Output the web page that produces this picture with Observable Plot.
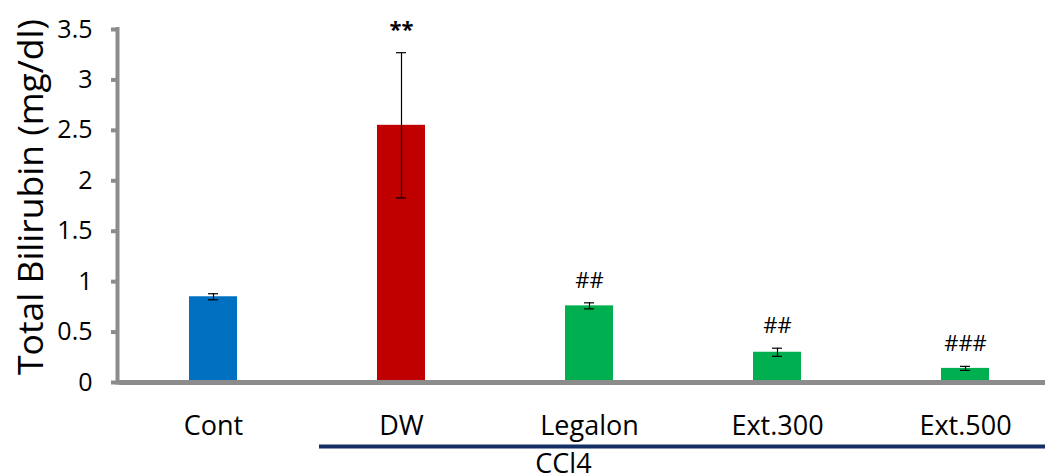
<!DOCTYPE html>
<html><head><meta charset="utf-8">
<script src="https://cdn.jsdelivr.net/npm/d3@7"></script>
<script src="https://cdn.jsdelivr.net/npm/@observablehq/plot@0.6"></script>
<style>html,body{margin:0;padding:0;background:#fff}#chart svg{display:block}</style>
</head><body><div id="chart"></div>
<script>
const groups = ["Cont", "DW", "Legalon", "Ext.300", "Ext.500"];
const means = [0.85, 2.55, 0.76, 0.30, 0.14];
const errors = [0.03, 0.72, 0.03, 0.04, 0.02];
const signif = ["", "**", "##", "##", "###"];
const colors = ["#0070C0", "#C00000", "#00B050", "#00B050", "#00B050"];
const yTicks = [0, 0.5, 1, 1.5, 2, 2.5, 3, 3.5];
const yTitle = "Total Bilirubin (mg/dl)";
const bracketLabel = "CCl4";
const bracketFrom = "DW";
const bracketTo = "Ext.500";
const bracketLabelAt = "Legalon";

const data = groups.map((g, i) => ({
  group: g, mean: means[i], lo: means[i] - errors[i], hi: means[i] + errors[i],
  mark: signif[i], color: colors[i]
}));

const gray = "#8c8c8c";

const axisLine = (index, scales, values, dims) => {
  const ns = "http://www.w3.org/2000/svg";
  const l = document.createElementNS(ns, "line");
  const x = dims.marginLeft - 1.5;
  l.setAttribute("x1", x); l.setAttribute("x2", x);
  l.setAttribute("y1", dims.marginTop - 2);
  l.setAttribute("y2", dims.height - dims.marginBottom + 2.5);
  l.setAttribute("stroke", gray); l.setAttribute("stroke-width", 4);
  return l;
};

const plot = Plot.plot({
  width: 1045, height: 474,
  marginTop: 29, marginBottom: 92, marginLeft: 119, marginRight: 0,
  style: {fontFamily: "'Open Sans', sans-serif", color: "#000", background: "#fff", overflow: "hidden"},
  x: {domain: groups, range: [118, 1059], paddingInner: 0.745, paddingOuter: 0.375, axis: null},
  y: {domain: [0, 3.5], axis: null},
  color: {type: "identity"},
  marks: [
    Plot.barY(data, {x: "group", y: "mean", fill: "color"}),
    Plot.ruleY([0], {stroke: gray, strokeWidth: 5}),
    axisLine,
    Plot.axisY(yTicks, {tickSize: 8, tickPadding: 19, stroke: gray, strokeWidth: 4, fill: "#000",
      fontSize: 25, tickFormat: d => String(d), label: null}),
    Plot.axisX({tickSize: 0, tickPadding: 33, fontSize: 27, fill: "#000", label: null}),
    Plot.ruleX(data, {x: "group", y1: "lo", y2: "hi", stroke: "#000", strokeWidth: 1.2}),
    Plot.tickY(data, {x: "group", y: "hi", stroke: "#000", strokeWidth: 1.2, insetLeft: 19, insetRight: 19}),
    Plot.tickY(data, {x: "group", y: "lo", stroke: "#000", strokeWidth: 1.2, insetLeft: 19, insetRight: 19}),
    Plot.text(data.filter(d => d.mark.startsWith("*")), {x: "group", y: "hi", text: "mark", dy: -23, fontSize: 22, fontWeight: "bold"}),
    Plot.text(data.filter(d => d.mark.startsWith("#")), {x: "group", y: "hi", text: "mark", dy: -22, fontSize: 22}),
    Plot.text([yTitle], {frameAnchor: "left", textAnchor: "middle", lineAnchor: "middle", rotate: -90,
      dx: -88, dy: -9, fontSize: 35.5, fill: "#000"}),
    Plot.ruleY([{from: bracketFrom, to: bracketTo}], {x1: "from", x2: "to", y: () => 0, dy: 64,
      insetLeft: -58, insetRight: -90, stroke: "#132f66", strokeWidth: 4}),
    Plot.text([bracketLabel], {x: () => bracketLabelAt, y: () => 0, dx: -26, dy: 82, fontSize: 27, fill: "#000"})
  ]
});
document.getElementById("chart").appendChild(plot);
</script>
</body></html>
